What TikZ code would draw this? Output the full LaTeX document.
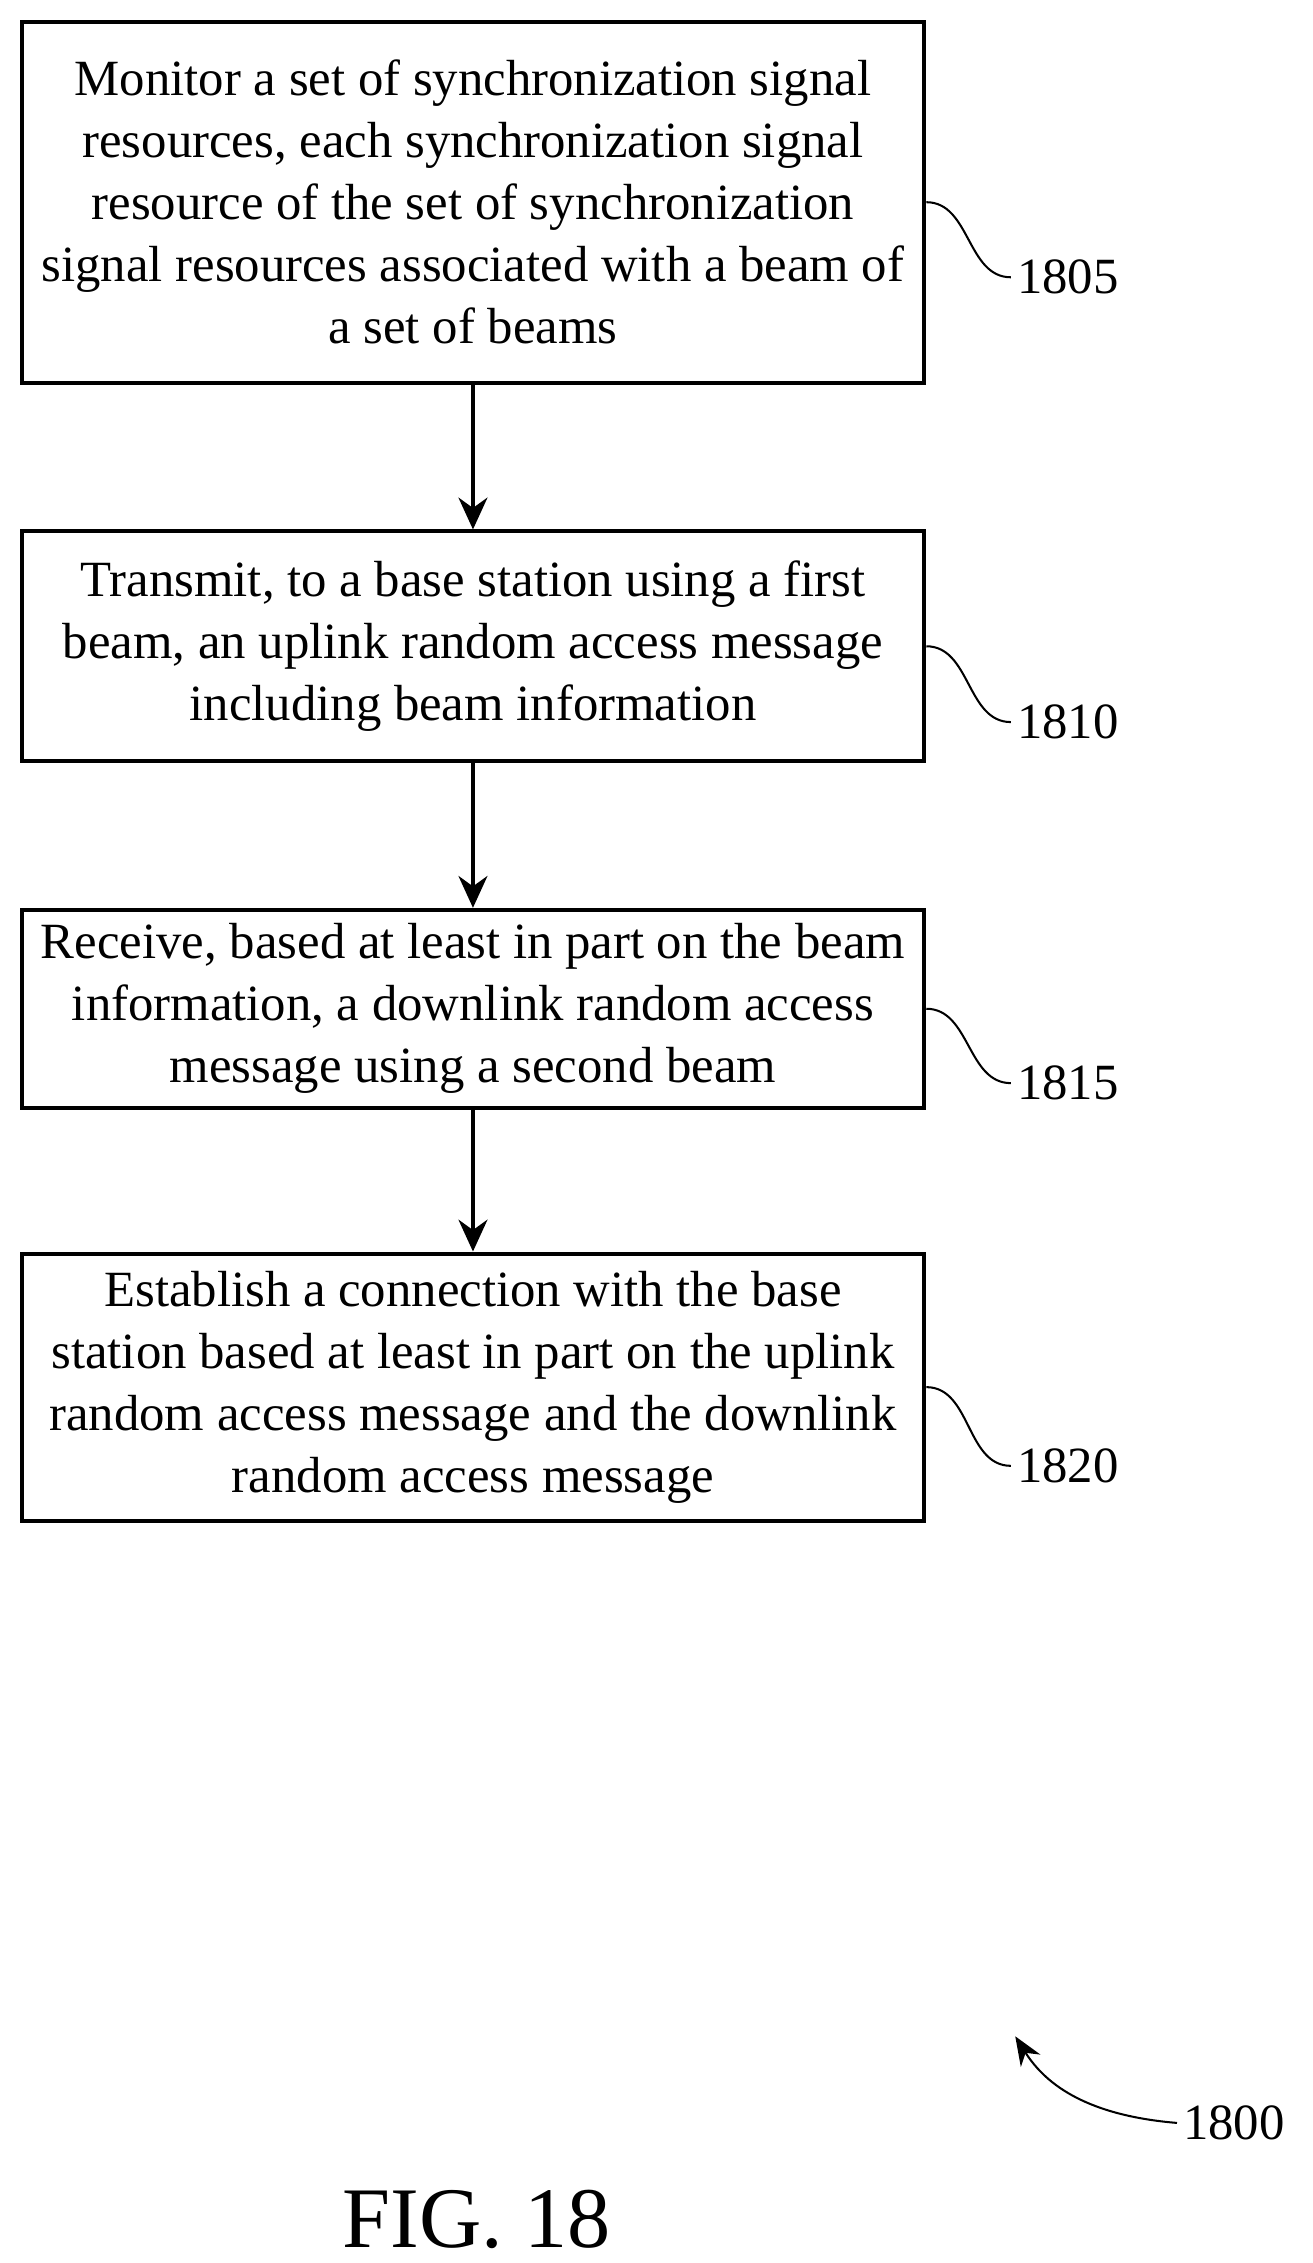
\documentclass[tikz,border=0pt]{standalone}
\usepackage{fontspec}
\setmainfont{Liberation Serif}
\usetikzlibrary{positioning,arrows.meta}
\tikzstyle{stepbox}=[draw, thick, rectangle, minimum width=6.25cm, align=center, inner sep=0pt, font=\fontsize{10}{12.2}\selectfont]
\tikzstyle{refnum}=[font=\fontsize{10}{12}\selectfont, anchor=west, inner sep=1pt]
\tikzstyle{flow}=[-{Stealth[length=2.2mm,width=2mm]}, thick]

\begin{document}
\begin{tikzpicture}
    \useasboundingbox (0,0) rectangle (9.09,-15.67);
      %Steps
      \node[stepbox, minimum height=2.5cm] (S1) at (3.275,-1.40) {Monitor a set of synchronization signal\\resources, each synchronization signal\\resource of the set of synchronization\\signal resources associated with a beam of\\a set of beams};
      \node[stepbox, minimum height=1.59cm] (S2) at (3.275,-4.475) {Transmit, to a base station using a first\\beam, an uplink random access message\\including beam information};
      \node[stepbox, minimum height=1.37cm] (S3) at (3.275,-6.985) {Receive, based at least in part on the beam\\information, a downlink random access\\message using a second beam};
      \node[stepbox, minimum height=1.85cm] (S4) at (3.275,-9.605) {Establish a connection with the base\\station based at least in part on the uplink\\random access message and the downlink\\random access message};

      %Arrows
      \draw[flow] (S1) -- (S2);
      \draw[flow] (S2) -- (S3);
      \draw[flow] (S3) -- (S4);

      %Reference numbers
      \node[refnum] (R1) at (7.0,-1.92) {1805};
      \node[refnum] (R2) at (7.0,-5.00) {1810};
      \node[refnum] (R3) at (7.0,-7.50) {1815};
      \node[refnum] (R4) at (7.0,-10.15) {1820};
      \draw (S1.east) to[out=0,in=180] (R1.west);
      \draw (S2.east) to[out=0,in=180] (R2.west);
      \draw (S3.east) to[out=0,in=180] (R3.west);
      \draw (S4.east) to[out=0,in=180] (R4.west);

      %Figure number
      \node[refnum] (R0) at (8.15,-14.70) {1800};
      \coordinate (T0) at (7.03,-14.10);
      \draw[-{Stealth[length=2mm,width=1.6mm]}] (R0.west) .. controls (7.55,-14.65) and (7.25,-14.45) .. (T0);
      \node[font=\fontsize{17}{20}\selectfont] (F) at (3.30,-15.37) {FIG. 18};
\end{tikzpicture}
\end{document}
